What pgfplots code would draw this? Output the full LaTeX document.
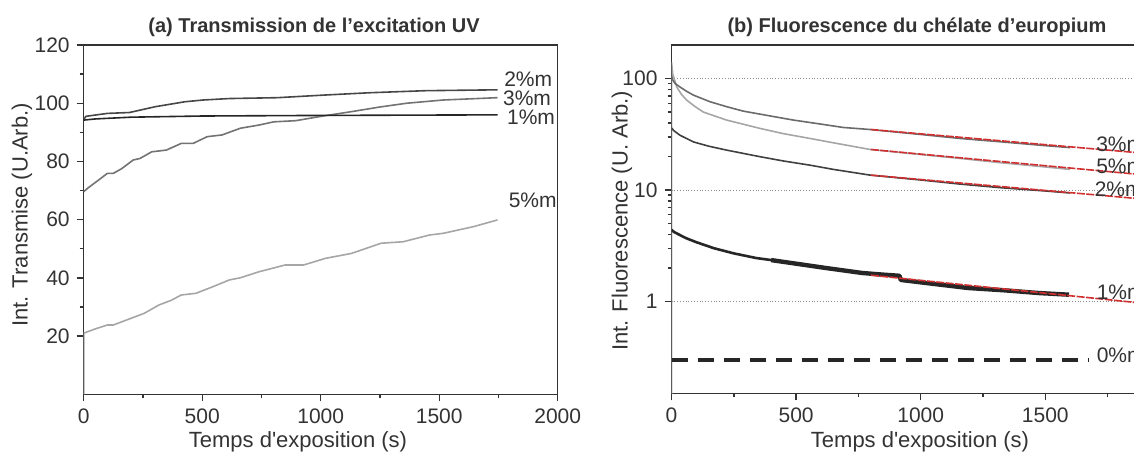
\documentclass[border=0pt]{standalone}
\usepackage{fontspec}
\setmainfont{Liberation Sans}
\usepackage{pgfplots}
\pgfplotsset{compat=1.18}
\definecolor{axc}{HTML}{333333}
\definecolor{fitred}{HTML}{D03030}
\pgfplotsset{
  common/.style={
    scale only axis,
    anchor=south west,
    axis line style={line width=0.75pt, color=axc},
    every tick/.style={line width=0.7pt, color=axc},
    tick align=outside,
    xtick pos=bottom, ytick pos=left,
    major tick length=3.5pt, minor tick length=2pt,
    ticklabel style={font=\fontsize{10.5}{12}\selectfont, text=axc},
    /pgf/number format/assume math mode=true,
    /pgf/number format/1000 sep={},
    clip mode=individual,
  }
}
\tikzset{lab/.style={anchor=west, inner sep=0pt, font=\fontsize{10.5}{12}\selectfont, text=axc, text height=7.6pt, text depth=0pt}}
\begin{document}
\begin{tikzpicture}[x=1pt,y=1pt]
% ---------- (a) ----------
\begin{axis}[common,
  at={(41.85pt,29.35pt)}, width=237pt, height=174.65pt,
  xmin=0, xmax=2000, ymin=0, ymax=120,
  xtick={0,500,1000,1500,2000}, minor x tick num=1,
  ytick={20,40,60,80,100,120}, minor y tick num=1,
]
\addplot[color=black!35, line width=0.8pt] coordinates {
(0,0)(0,21)(50,22.5)(100,23.8)(125,23.8)(180,25.5)(255,27.8)(318,30.7)(370,32.3)(411,34.1)(474,34.7)(540,36.8)(615,39.3)(660,40.0)(740,42.1)(849,44.4)(927,44.4)(1020,46.7)(1130,48.4)(1255,51.9)(1348,52.4)(1458,54.7)(1517,55.3)(1645,57.6)(1746,59.9)};
\addplot[color=black!55, line width=0.8pt] coordinates {
(0,69.6)(20,71)(53,73)(100,75.9)(125,75.9)(160,77.5)(209,80.5)(237,81)(287,83.3)(349,83.9)(412,86.2)(462,86.2)(521,88.5)(584,89.1)(661,91.4)(740,92.5)(802,93.6)(895,94)(1010,95.6)(1130,97.1)(1250,98.7)(1364,100)(1517,101.1)(1746,101.9)};
\addplot[color=black!85, line width=0.8pt] coordinates {
(0,94.2)(50,94.6)(200,95.2)(500,95.6)(1000,95.8)(1746,96)};
\addplot[color=black!72, line width=0.8pt] coordinates {
(0,94.5)(10,95.5)(100,96.5)(193,96.8)(302,98.8)(427,100.5)(504,101.1)(615,101.6)(818,101.9)(1016,102.8)(1208,103.6)(1442,104.3)(1746,104.6)};
\node[lab] at (axis cs:1773,108.2) {2\%m};
\node[lab] at (axis cs:1768,101.7) {3\%m};
\node[lab] at (axis cs:1785,95.2) {1\%m};
\node[lab] at (axis cs:1792,66.7) {5\%m};
\end{axis}
% ---------- (b) ----------
\begin{axis}[common,
  at={(335.75pt,29.85pt)}, width=249.2pt, height=174.15pt,
  xmin=0, xmax=2000, ymode=log, ymin=0.15, ymax=200,
  xtick={0,500,1000,1500}, minor xtick={250,750,1250,1750},
  ytick={1,10,100}, yticklabels={1,10,100},
  ymajorgrids, major grid style={densely dotted, color=black!45, line width=0.5pt},
]
\addplot[color=black!35, line width=0.8pt] coordinates {
(0,0.1)(0,141)(5,110)(21,84)(40,72)(61,64)(90,57)(128,50)(221,42.4)(355,35.7)(450,32)(556,29)(650,26.5)(797,23.1)(1000,20.8)(1158,19.2)(1318,17.6)(1500,16.1)(1600,15.3)};
\addplot[color=black!58, line width=0.8pt] coordinates {
(0,105)(5,97)(15,90)(34,84)(60,77)(88,71)(154,62)(220,56)(288,51)(400,46)(489,42.4)(600,39)(689,36.4)(797,34.9)(1000,31.5)(1158,29)(1318,27.1)(1500,25)(1600,24)};
\addplot[color=black!75, line width=0.8pt] coordinates {
(0,36)(10,34)(34,31)(88,27)(150,24.7)(221,22.8)(355,19.9)(450,18.2)(556,16.7)(650,15.3)(797,13.6)(1000,12.3)(1158,11.3)(1318,10.5)(1500,9.8)(1600,9.4)};
\addplot[color=black!85, line width=1.3pt, line join=round] coordinates {
(0,4.4)(10,4.2)(58,3.7)(100,3.4)(171,3.0)(250,2.7)(341,2.45)(420,2.32)};
\addplot[color=black!85, line width=2.2pt, line join=round] coordinates {
(400,2.35)(483,2.21)(624,1.99)(766,1.80)(850,1.74)(915,1.70)(920,1.56)(1049,1.44)(1191,1.32)(1333,1.26)(1474,1.19)(1595,1.15)};
\addplot[color=black!85, line width=2pt, dash pattern=on 8pt off 5pt] coordinates {(0,0.30)(1672,0.30)};
\addplot[color=fitred, line width=0.8pt, dash pattern=on 4pt off 0.7pt] coordinates {(800,34.9)(2000,20.4)};
\addplot[color=fitred, line width=0.8pt, dash pattern=on 4pt off 0.7pt] coordinates {(800,23.1)(2000,13.0)};
\addplot[color=fitred, line width=0.8pt, dash pattern=on 4pt off 0.7pt] coordinates {(800,13.6)(2000,7.9)};
\addplot[color=fitred, line width=0.8pt, dash pattern=on 4pt off 0.7pt] coordinates {(800,1.72)(2000,0.91)};
\node[lab] at (axis cs:1703,25.8) {3\%m};
\node[lab] at (axis cs:1703,16.5) {5\%m};
\node[lab] at (axis cs:1697,10.2) {2\%m};
\node[lab] at (axis cs:1705,1.23) {1\%m};
\node[lab] at (axis cs:1705,0.333) {0\%m};
\end{axis}
% ---------- titles and labels ----------
\node[font=\fontsize{10}{12}\selectfont\bfseries, text=axc] at (157pt,213pt) {(a) Transmission de l’excitation UV};
\node[font=\fontsize{10}{12}\selectfont\bfseries, text=axc] at (458.5pt,213pt) {(b) Fluorescence du chélate d’europium};
\node[font=\fontsize{11}{13}\selectfont, text=axc, anchor=base] at (149pt,2.5pt) {Temps d\textquotesingle exposition (s)};
\node[font=\fontsize{11}{13}\selectfont, text=axc, anchor=base] at (460pt,2.5pt) {Temps d\textquotesingle exposition (s)};
\node[font=\fontsize{11}{13}\selectfont, text=axc, rotate=90] at (11pt,119pt) {Int. Transmise (U.Arb.)};
\node[font=\fontsize{11}{13}\selectfont, text=axc, rotate=90] at (311pt,116pt) {Int. Fluorescence (U. Arb.)};
\pgfresetboundingbox
\path[use as bounding box] (0,0) rectangle (567pt,226.5pt);
\end{tikzpicture}
\end{document}
